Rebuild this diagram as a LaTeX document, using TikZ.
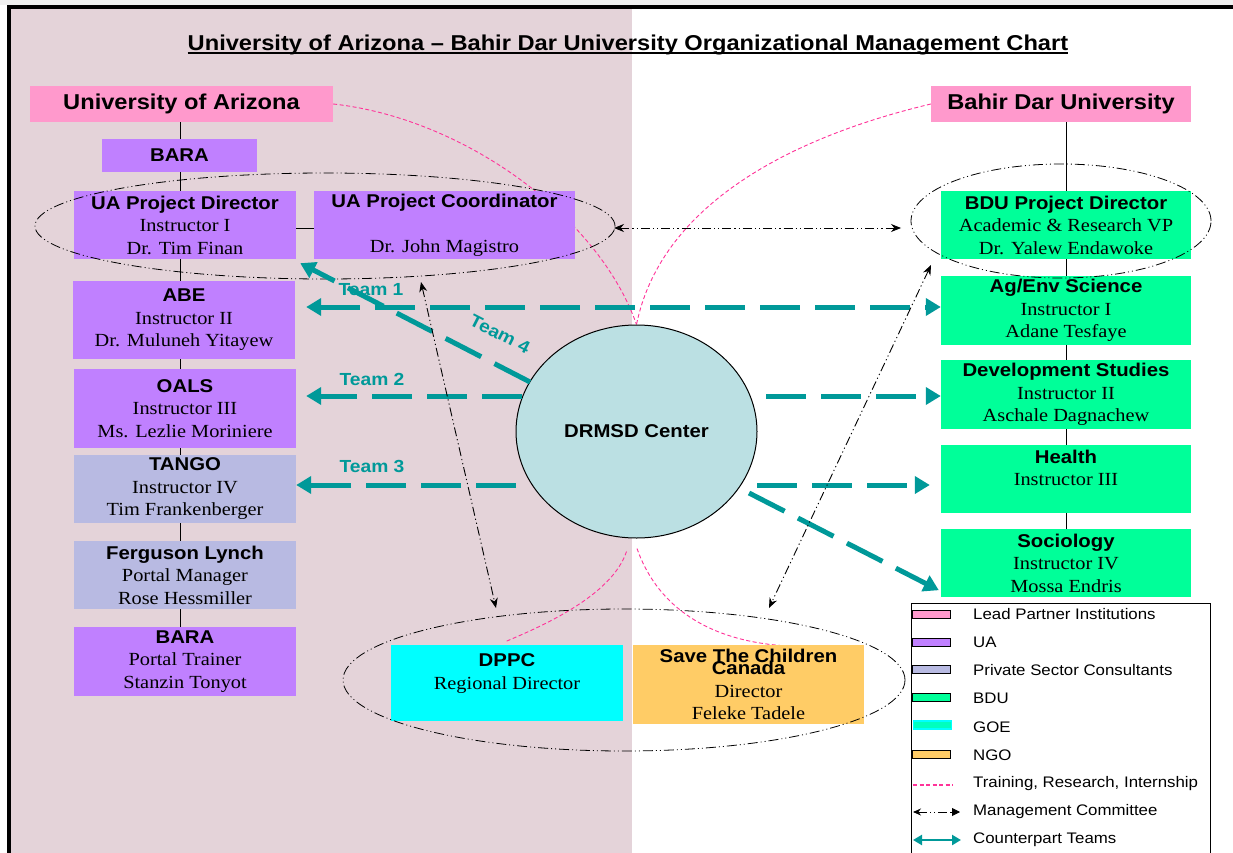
\documentclass[tikz,border=0pt]{standalone}
\usepackage{fontspec}
\setmainfont{Liberation Serif}[FakeStretch=1.1]
\setsansfont{Liberation Sans}[FakeStretch=1.1]
\usetikzlibrary{arrows.meta,calc,shapes.geometric}
\definecolor{pinkbox}{RGB}{255,153,204}
\definecolor{uapurple}{RGB}{192,128,255}
\definecolor{lav}{RGB}{184,186,226}
\definecolor{bdugreen}{RGB}{0,255,153}
\definecolor{goecyan}{RGB}{0,255,255}
\definecolor{goeswatch}{RGB}{0,255,190}
\definecolor{ngo}{RGB}{255,204,102}
\definecolor{drm}{RGB}{187,224,227}
\definecolor{bgpink}{RGB}{228,211,217}
\definecolor{tealc}{RGB}{0,153,153}
\definecolor{trpink}{RGB}{255,51,153}
\newcommand{\hf}{\fontsize{18.5}{22.5}\selectfont\sffamily\bfseries}
\newcommand{\bigf}{\fontsize{21.5}{26}\selectfont\sffamily\bfseries}
\pgfdeclarelayer{bg}
\pgfdeclarelayer{mid}
\pgfsetlayers{bg,mid,main}
\tikzset{
  orgbox/.style={rectangle, inner sep=0pt, align=center, font=\fontsize{18.5}{22.5}\selectfont},
  conn/.style={draw=black, line width=0.9pt},
  ring/.style={ellipse, draw=black, line width=0.8pt, inner sep=0pt,
     dash pattern=on 10pt off 3pt on 1pt off 3pt on 1pt off 3pt},
  mgmt/.style={draw=black, line width=0.9pt,
     dash pattern=on 9pt off 3pt on 1.2pt off 3pt on 1.2pt off 3pt,
     {Stealth[length=10pt,width=8pt]}-{Stealth[length=10pt,width=8pt]}},
  team/.style={draw=tealc, line width=5pt, dash pattern=on 40pt off 15pt,
     -{Triangle[length=15pt,width=17pt]}},
  tlab/.style={text=tealc, inner sep=0pt, font=\fontsize{17.5}{20}\selectfont\sffamily\bfseries},
  train/.style={draw=trpink, line width=0.9pt, dash pattern=on 4pt off 2.5pt},
  sw/.style={draw=black, line width=1pt, minimum width=38pt, minimum height=8pt, inner sep=0pt},
  legtxt/.style={anchor=west, inner sep=0pt, font=\fontsize{15.3}{18}\selectfont\sffamily}
}
\begin{document}
\begin{tikzpicture}[x=1pt,y=-1pt]
\useasboundingbox (0,0) rectangle (1233,853);
\clip (0,0) rectangle (1233,853);

% title
\node[inner sep=0pt, anchor=base, font=\bigf] (title) at (628,50.5)
  {University of Arizona – Bahir Dar University Organizational Management Chart};
\draw[line width=1.8pt] ($(title.base west)+(0,2.8)$) -- ($(title.base east)+(0,2.8)$);

% left column
\node[orgbox, fill=pinkbox, minimum width=303pt, minimum height=36pt, font=\bigf] (uaz) at (181.5,104) {University of Arizona};
\node[orgbox, fill=uapurple, minimum width=155pt, minimum height=33pt, font=\hf] (bara) at (179.5,155.5) {BARA};
\node[orgbox, fill=uapurple, minimum width=222pt, minimum height=68pt] (uapd) at (185,225)
  {{\hf UA Project Director}\\Instructor I\\Dr. Tim Finan};
\node[orgbox, fill=uapurple, minimum width=261pt, minimum height=68pt] (uapc) at (444.5,225)
  {{\hf UA Project Coordinator}\\\mbox{}\\Dr. John Magistro};
\node[orgbox, fill=uapurple, minimum width=222pt, minimum height=78pt] (abe) at (184,320)
  {{\hf ABE}\\Instructor II\\Dr. Muluneh Yitayew};
\node[orgbox, fill=uapurple, minimum width=222pt, minimum height=79pt] (oals) at (185,408.5)
  {{\hf OALS}\\Instructor III\\Ms. Lezlie Moriniere};
\node[orgbox, fill=lav, minimum width=222pt, minimum height=68pt] (tango) at (185,489)
  {{\hf TANGO}\\Instructor IV\\Tim Frankenberger};
\node[orgbox, fill=lav, minimum width=222pt, minimum height=68pt] (fl) at (185,575)
  {{\hf Ferguson Lynch}\\Portal Manager\\Rose Hessmiller};
\node[orgbox, fill=uapurple, minimum width=222pt, minimum height=69pt] (bara2) at (185,661.5)
  {{\hf BARA}\\Portal Trainer\\Stanzin Tonyot};

% right column
\node[orgbox, fill=pinkbox, minimum width=260pt, minimum height=36pt, font=\bigf] (bdu) at (1061,104) {Bahir Dar University};
\node[orgbox, fill=bdugreen, minimum width=250pt, minimum height=68pt] (bdupd) at (1066,225)
  {{\hf BDU Project Director}\\Academic \& Research VP\\Dr. Yalew Endawoke};
\node[orgbox, fill=bdugreen, minimum width=250pt, minimum height=69pt] (agenv) at (1066,310.5)
  {{\hf Ag/Env Science}\\Instructor I\\Adane Tesfaye};
\node[orgbox, fill=bdugreen, minimum width=250pt, minimum height=69pt] (dev) at (1066,394.5)
  {{\hf Development Studies}\\Instructor II\\Aschale Dagnachew};
\node[orgbox, fill=bdugreen, minimum width=250pt, minimum height=68pt] (health) at (1066,479)
  {{\hf Health}\\Instructor III\\\mbox{}};
\node[orgbox, fill=bdugreen, minimum width=250pt, minimum height=68pt] (soc) at (1066,563)
  {{\hf Sociology}\\Instructor IV\\Mossa Endris};

% bottom
\node[orgbox, fill=goecyan, minimum width=232pt, minimum height=76pt] (dppc) at (507,683)
  {{\hf DPPC}\\Regional Director\\\mbox{}};
\node[orgbox, fill=ngo, minimum width=231pt, minimum height=79pt] (stc) at (748.5,684.5)
  {{\hf Save The Children}\\[-10.5pt]{\hf Canada}\\Director\\Feleke Tadele};

% center
\node[ellipse, draw=black, line width=1pt, fill=drm, minimum width=241pt, minimum height=213pt,
  inner sep=0pt, font=\hf] (drmsd) at (636.5,431.5) {DRMSD Center};

% background layers
\begin{pgfonlayer}{bg}
\fill[white] (0,0) rectangle (1233,853);
\fill[gray!12] (0,0) rectangle (1233,5);
\fill[bgpink] (11,9) rectangle (632,853);
\draw[line width=4pt] (9,870) -- (9,7) -- (1240,7);
\end{pgfonlayer}
\begin{pgfonlayer}{mid}
\draw[train] (uaz.east) .. controls (462,118) and (598,215) .. (drmsd.north);
\draw[train] (bdu.west) .. controls (780,140) and (660,210) .. (drmsd.north);
\draw[train] ($(drmsd.south)+(-10,13)$) .. controls (612,595) and (545,625) .. ($(dppc.north)+(-2,-3)$);
\draw[train] ($(drmsd.south)+(0.5,10)$) .. controls (655,600) and (700,640) .. ($(stc.north)+(36,1)$);
\end{pgfonlayer}

% spines
\coordinate (lsp) at (180,0);
\coordinate (rsp) at (1066,0);
\draw[conn] (uaz.south -| lsp) -- (bara.north -| lsp);
\draw[conn] (bara.south -| lsp) -- (uapd.north -| lsp);
\draw[conn] (uapd.south -| lsp) -- (abe.north -| lsp);
\draw[conn] (abe.south -| lsp) -- (oals.north -| lsp);
\draw[conn] (oals.south -| lsp) -- (tango.north -| lsp);
\draw[conn] (tango.south -| lsp) -- (fl.north -| lsp);
\draw[conn] (fl.south -| lsp) -- (bara2.north -| lsp);
\draw[conn] ([yshift=-3pt]uapd.east) -- ([yshift=-3pt]uapc.west);
\draw[conn] (bdu.south -| rsp) -- (bdupd.north -| rsp);
\draw[conn] (bdupd.south -| rsp) -- (agenv.north -| rsp);
\draw[conn] (agenv.south -| rsp) -- (dev.north -| rsp);
\draw[conn] (dev.south -| rsp) -- (health.north -| rsp);
\draw[conn] (health.south -| rsp) -- (soc.north -| rsp);

% rings
\node[ring, minimum width=580pt, minimum height=106pt] (uaell) at (325,226) {};
\node[ring, minimum width=300pt, minimum height=114pt] (bdell) at (1061,221) {};
\node[ring, minimum width=562pt, minimum height=142pt] (botell) at (624,680) {};

% counterpart teams
\draw[team, {Triangle[length=15pt,width=17pt]}-{Triangle[length=15pt,width=17pt]}]
  ($(abe.east)+(11,-13)$) -- ($(agenv.west)+(0,-3.5)$);
\draw[team] ($(drmsd.center)+(-114.5,-35.5)$) -- ($(oals.east)+(10,-12.5)$);
\draw[team] ($(drmsd.center)+(129.5,-35.5)$) -- ($(dev.west)+(0,1.5)$);
\draw[team] ($(drmsd.center)+(-120.5,53.5)$) -- ($(tango.east)+(0,-4)$);
\draw[team] ($(drmsd.center)+(120.5,53.5)$) -- ($(health.west)+(-11,6)$);
\draw[team] ($(drmsd.center)+(-106.5,-49.5)$) -- ($(uapd.south east)+(4,4)$);
\draw[team] ($(drmsd.center)+(112.5,61.5)$) -- ($(soc.south west)+(-2,-7)$);
\node[tlab] (t1) at (371,290) {Team 1};
\node[tlab] (t2) at (372,379) {Team 2};
\node[tlab] (t3) at (372,466) {Team 3};
\node[tlab, rotate=-27] (t4) at (500,334) {Team 4};

% management committee
\draw[mgmt] ($(uaell.center)+(289,2)$) -- ($(bdell.center)+(-160,7)$);
\draw[mgmt] ($(uaell.center)+(96,56)$) -- ($(botell.center)+(-128,-72)$);
\draw[mgmt] ($(bdell.center)+(-130,44)$) -- ($(botell.center)+(145,-72)$);

% legend
\node[draw=black, line width=0.8pt, fill=white, minimum width=299pt, minimum height=270pt,
  inner sep=0pt, anchor=north west] (legend) at (911,603) {};
\node[sw, fill=pinkbox] (s1) at (931.5,614) {};
\node[sw, fill=uapurple] (s2) at (931.5,642) {};
\node[sw, fill=lav] (s3) at (931.5,669) {};
\node[sw, fill=bdugreen] (s4) at (931.5,697) {};
\node[sw, fill=goeswatch, draw=goecyan, line width=1.5pt] (s5) at (932.5,725) {};
\node[sw, fill=ngo] (s6) at (931.5,754) {};
\coordinate (l7a) at (913,785); \coordinate (l7b) at (953,785);
\draw[train, line width=1.1pt] (l7a) -- (l7b);
\coordinate (l8a) at (913,812); \coordinate (l8b) at (960,812);
\draw[mgmt, {Stealth[length=8pt,width=7pt]}-{Triangle[length=8pt,width=8pt]}] (l8a) -- (l8b);
\coordinate (l9a) at (913,840); \coordinate (l9b) at (961,840);
\draw[tealc, line width=2.5pt, {Triangle[length=9pt,width=10pt]}-{Triangle[length=9pt,width=10pt]}] (l9a) -- (l9b);
\node[legtxt] at (973,614) {Lead Partner Institutions};
\node[legtxt] at (973,642) {UA};
\node[legtxt] at (973,670) {Private Sector Consultants};
\node[legtxt] at (973,698) {BDU};
\node[legtxt] at (973,727) {GOE};
\node[legtxt] at (973,755) {NGO};
\node[legtxt] at (973,784) {Training, Research, Internship};
\node[legtxt] at (973,812) {Management Committee};
\node[legtxt] at (973,840) {Counterpart Teams};
\end{tikzpicture}
\end{document}
